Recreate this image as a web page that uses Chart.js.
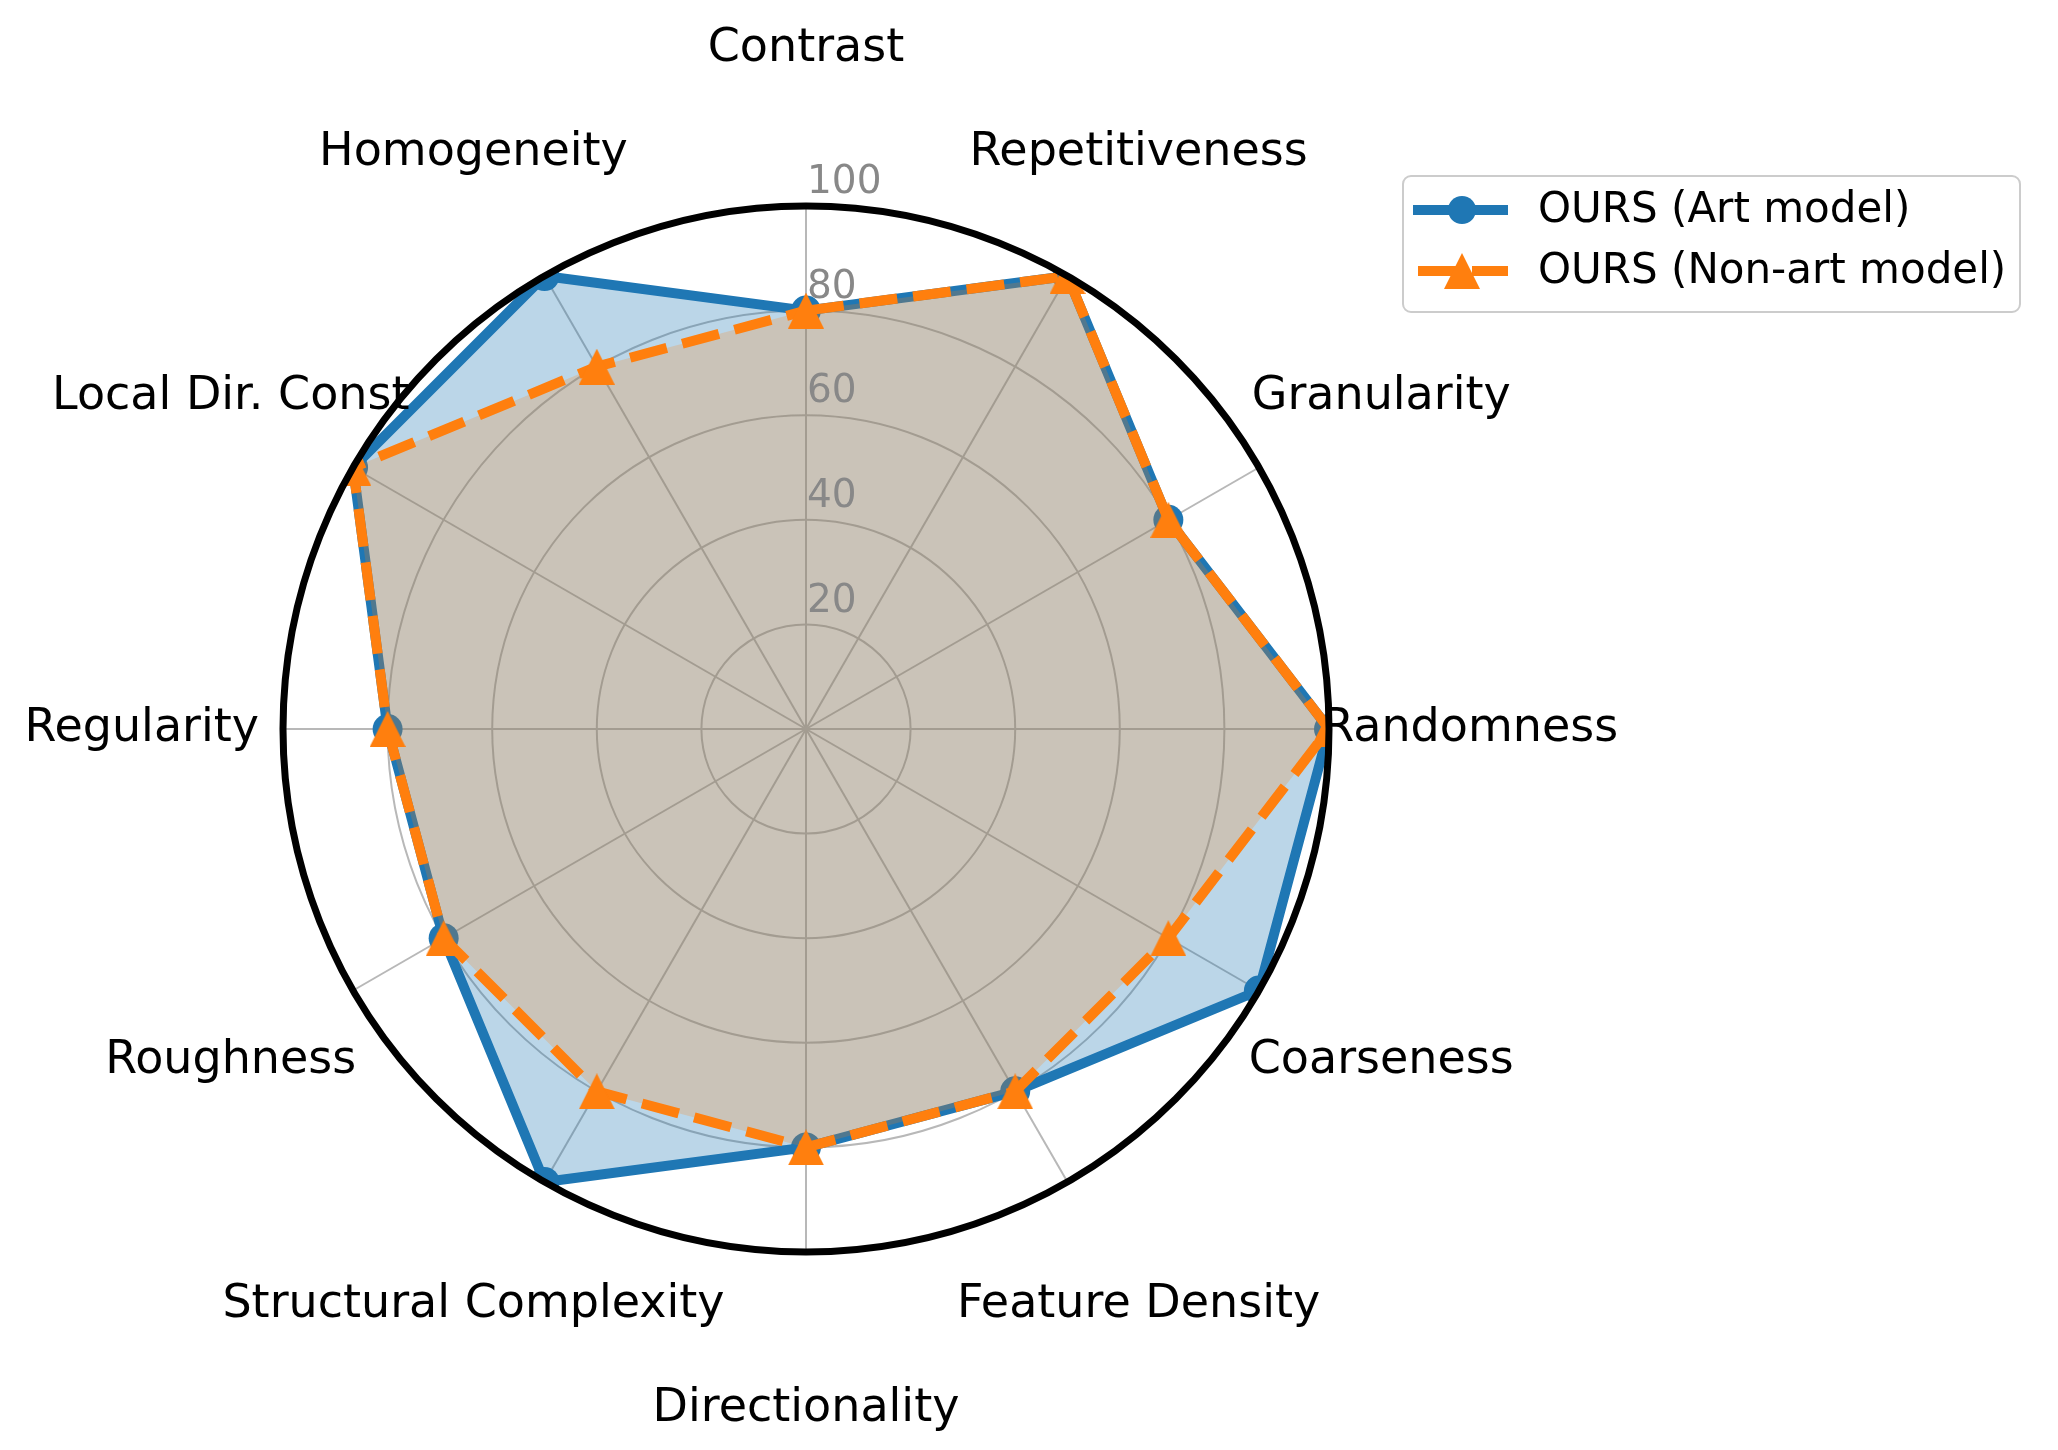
<!DOCTYPE html>
<html>
<head>
<meta charset="utf-8">
<script src="https://cdn.jsdelivr.net/npm/chart.js@4.4.1/dist/chart.umd.min.js"></script>
<style>
  html,body{margin:0;background:#fff}
  #wrap{width:2058px;height:1450px;position:relative}
</style>
</head>
<body>
<div id="wrap"><canvas id="radar"></canvas></div>
<script>
// ---- data ----
const CATEGORIES = ["Contrast","Repetitiveness","Granularity","Randomness","Coarseness","Feature Density",
                    "Directionality","Structural Complexity","Roughness","Regularity","Local Dir. Const","Homogeneity"];
const ART_MODEL     = [80,100,80,100,100,80,80,100,80,80,100,100];
const NON_ART_MODEL = [80,100,80,100, 80,80,80, 80,80,80,100, 80];
const R_TICKS = [20,40,60,80,100];
const SERIES_NAMES = ["OURS (Art model)","OURS (Non-art model)"];

const BLUE="#1f77b4", ORANGE="#ff7f0e", GRID="#b8b8b8";
const FONT='"DejaVu Sans", sans-serif';

// matplotlib-like "^" marker: bbox-centred, width == height
function triangleSprite(size,color){
  const c=document.createElement("canvas"); c.width=size; c.height=size;
  const g=c.getContext("2d"); g.fillStyle=color;
  g.beginPath(); g.moveTo(size/2,0); g.lineTo(size,size); g.lineTo(0,size); g.closePath(); g.fill();
  return c;
}
const TRI=triangleSprite(36,ORANGE);

// clip data to the polar circle, then draw spine, r-labels, theta-labels and legend
const polarDecor={id:"polarDecor",
  beforeDatasetsDraw(chart){
    const s=chart.scales.r, ctx=chart.ctx;
    ctx.save(); ctx.beginPath(); ctx.arc(s.xCenter,s.yCenter,s.drawingArea,0,Math.PI*2); ctx.clip();
  },
  afterDatasetsDraw(chart){
    const s=chart.scales.r, ctx=chart.ctx;
    ctx.restore();
    ctx.save();
    ctx.lineWidth=7; ctx.strokeStyle="#000";
    ctx.beginPath(); ctx.arc(s.xCenter,s.yCenter,s.getDistanceFromCenterForValue(100),0,Math.PI*2); ctx.stroke();
    // radial tick labels
    ctx.fillStyle="#888"; ctx.font="39px "+FONT; ctx.textAlign="left"; ctx.textBaseline="middle";
    R_TICKS.forEach(v=>{ const d=s.getDistanceFromCenterForValue(v); ctx.fillText(String(v), s.xCenter+1, s.yCenter-d-23); });
    // category labels
    ctx.fillStyle="#000"; ctx.font="46px "+FONT; ctx.textAlign="center";
    CATEGORIES.forEach((lab,i)=>{
      const a=i*2*Math.PI/CATEGORIES.length;
      const extra=16*Math.pow(Math.abs(Math.cos(a)),20);
      const p=s.getPointPosition(i, s.drawingArea*1.27+extra);
      ctx.fillText(lab,p.x,p.y);
    });
    ctx.restore();
  },
  afterDraw(chart){
    const ctx=chart.ctx, bx=1403, by=176, bw=617, bh=136;
    ctx.save();
    ctx.beginPath(); ctx.roundRect(bx,by,bw,bh,8);
    ctx.fillStyle="rgba(255,255,255,0.8)"; ctx.fill();
    ctx.lineWidth=2; ctx.strokeStyle="#cccccc"; ctx.stroke();
    chart.data.datasets.forEach((ds,i)=>{
      const y=by+34+i*61;
      ctx.strokeStyle=ds.borderColor; ctx.lineWidth=ds.borderWidth; ctx.lineCap="butt";
      ctx.setLineDash(ds.borderDash||[]); ctx.lineDashOffset=-5;
      ctx.beginPath(); ctx.moveTo(bx+10,y); ctx.lineTo(bx+105,y); ctx.stroke();
      ctx.setLineDash([]);
      if(ds.pointStyle==="circle"){
        ctx.fillStyle=ds.borderColor; ctx.beginPath(); ctx.arc(bx+59,y,14,0,Math.PI*2); ctx.fill();
      } else {
        ctx.drawImage(ds.pointStyle,bx+59-ds.pointStyle.width/2,y-ds.pointStyle.height/2);
      }
      ctx.fillStyle="#000"; ctx.font="42px "+FONT; ctx.textAlign="left"; ctx.textBaseline="middle";
      ctx.fillText(ds.label,bx+135,y+1);
    });
    ctx.restore();
  }
};

new Chart(document.getElementById("radar"),{
  type:"radar",
  data:{labels:CATEGORIES,datasets:[
    {label:SERIES_NAMES[0],data:ART_MODEL,borderColor:BLUE,backgroundColor:"rgba(31,119,180,0.3)",
     borderWidth:10,borderJoinStyle:"round",fill:true,tension:0,order:2,
     pointStyle:"circle",pointRadius:15,pointBackgroundColor:BLUE,pointBorderWidth:0},
    {label:SERIES_NAMES[1],data:NON_ART_MODEL,borderColor:ORANGE,backgroundColor:"rgba(255,127,14,0.22)",
     borderWidth:10,borderDash:[38,16],borderJoinStyle:"round",fill:true,tension:0,order:1,
     pointStyle:TRI,pointRadius:18,pointBackgroundColor:ORANGE,pointBorderWidth:0}
  ]},
  options:{responsive:true,maintainAspectRatio:false,animation:false,events:[],
    layout:{padding:{left:283,right:729,top:206,bottom:198}},
    scales:{r:{min:0,max:100,
      ticks:{display:false,stepSize:20},
      pointLabels:{display:false},
      grid:{circular:true,lineWidth:2,color:c=>(c.tick&&c.tick.value===100)?"rgba(0,0,0,0)":GRID},
      angleLines:{color:GRID,lineWidth:2}}},
    plugins:{legend:{display:false},tooltip:{enabled:false}}},
  plugins:[polarDecor]
});
</script>
</body>
</html>
